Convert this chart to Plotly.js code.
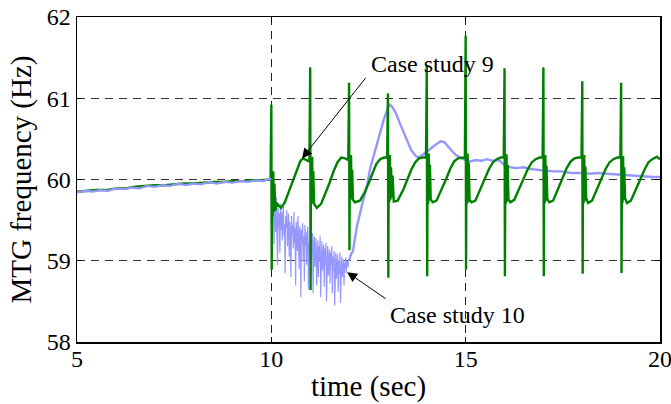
<!DOCTYPE html>
<html>
<head>
<meta charset="utf-8">
<script src="https://cdn.plot.ly/plotly-3.0.1.min.js"></script>
<style>html,body{margin:0;padding:0;background:#fff;}#chart{width:671px;height:404px;}</style>
</head>
<body>
<div id="chart"></div>
<script>
// ---- Data ----
var xTicks = [5, 10, 15, 20];
var yTicks = [58, 59, 60, 61, 62];
var seriesNames = ["Case study 9", "Case study 10"];

// Case study 9 (green)
var case9Time = [
  5.00,5.25,5.50,5.75,6.00,6.25,6.50,6.75,7.00,7.25,7.50,7.75,8.00,8.25,8.50,8.75,9.00,9.25,9.50,9.75,9.98,
  10.00,10.01,10.02,10.035,10.05,10.065,10.08,10.10,10.15,10.25,10.35,10.45,10.55,10.65,10.75,10.82,10.90,10.98,
  11.00,11.01,11.02,11.035,11.05,11.065,11.08,11.10,11.17,11.28,11.40,11.50,11.60,11.70,11.80,11.90,11.98,
  12.00,12.01,12.02,12.035,12.05,12.065,12.08,12.10,12.15,12.28,12.40,12.50,12.60,12.70,12.80,12.90,12.98,
  13.00,13.01,13.02,13.035,13.05,13.065,13.08,13.10,13.12,13.15,13.25,13.40,13.50,13.60,13.70,13.80,13.90,13.98,
  14.00,14.01,14.02,14.035,14.05,14.065,14.08,14.10,14.15,14.25,14.40,14.50,14.60,14.70,14.80,14.90,14.98,
  15.00,15.01,15.02,15.035,15.05,15.065,15.08,15.10,15.15,15.25,15.40,15.50,15.60,15.70,15.80,15.90,15.98,
  16.00,16.01,16.02,16.035,16.05,16.065,16.08,16.10,16.15,16.25,16.40,16.50,16.60,16.70,16.80,16.90,16.98,
  17.00,17.01,17.02,17.035,17.05,17.065,17.08,17.10,17.15,17.25,17.40,17.50,17.60,17.70,17.80,17.90,17.98,
  18.00,18.01,18.02,18.035,18.05,18.065,18.08,18.10,18.15,18.25,18.40,18.50,18.60,18.70,18.80,18.90,18.98,
  19.00,19.01,19.02,19.035,19.05,19.065,19.08,19.10,19.15,19.25,19.40,19.50,19.60,19.70,19.80,19.92,20.00
];
var case9Freq = [
  59.85,59.86,59.87,59.87,59.89,59.89,59.91,59.92,59.93,59.93,59.94,59.95,59.95,59.96,59.97,59.97,59.98,59.98,59.99,59.99,60.00,
  60.92,58.89,60.05,59.55,60.10,59.60,59.95,59.62,59.70,59.65,59.72,59.85,59.98,60.12,60.23,60.26,60.24,60.22,
  61.38,58.64,60.25,59.70,60.28,59.75,60.10,59.70,59.65,59.70,59.83,59.96,60.10,60.21,60.27,60.26,60.24,
  61.19,59.13,60.25,59.75,60.30,59.78,60.12,59.75,59.72,59.74,59.84,59.95,60.08,60.19,60.25,60.27,60.27,
  61.06,58.79,60.28,59.72,60.30,59.75,60.15,59.78,60.05,59.73,59.74,59.88,60.00,60.12,60.21,60.26,60.27,60.27,
  61.41,58.81,60.28,59.70,60.32,59.74,60.18,59.76,59.72,59.74,59.89,60.01,60.13,60.22,60.26,60.27,60.27,
  61.77,58.89,60.30,59.70,60.32,59.72,60.20,59.75,59.72,59.74,59.90,60.02,60.13,60.21,60.25,60.27,60.27,
  61.37,58.81,60.30,59.70,60.31,59.73,60.18,59.76,59.72,59.75,59.90,60.02,60.13,60.21,60.25,60.27,60.27,
  61.38,58.81,60.29,59.71,60.30,59.74,60.17,59.76,59.72,59.74,59.91,60.03,60.14,60.22,60.26,60.27,60.27,
  61.21,58.84,60.28,59.71,60.30,59.74,60.16,59.77,59.71,59.74,59.90,60.02,60.13,60.21,60.25,60.27,60.27,
  61.19,58.85,60.28,59.71,60.29,59.75,60.15,59.77,59.71,59.74,59.89,60.01,60.12,60.21,60.25,60.28,60.25
];

// Case study 10 (light blue)
var case10Time = [
  5.0,5.2,5.4,5.6,5.8,6.0,6.2,6.4,6.6,6.8,7.0,7.2,7.4,7.6,7.8,8.0,8.2,8.4,8.6,8.8,9.0,9.2,9.4,9.6,9.8,9.95,10.0,
  10.01,10.025,10.04,10.055,10.07,10.085,10.1,10.115,10.13,10.145,10.16,10.175,10.19,10.205,10.22,10.235,10.25,10.265,10.28,10.295,
  10.31,10.325,10.34,10.355,10.37,10.385,10.4,10.415,10.43,10.445,10.46,10.475,10.49,10.505,10.52,10.535,10.55,10.565,10.58,10.595,
  10.61,10.625,10.64,10.655,10.67,10.685,10.7,10.715,10.73,10.745,10.76,10.775,10.79,10.805,10.82,10.835,10.85,10.865,10.88,10.895,
  10.91,10.925,10.94,10.955,10.97,10.985,11.0,11.015,11.03,11.045,11.06,11.075,11.09,11.105,11.12,11.135,11.15,11.165,11.18,11.195,
  11.21,11.225,11.24,11.255,11.27,11.285,11.3,11.315,11.33,11.345,11.36,11.375,11.39,11.405,11.42,11.435,11.45,11.465,11.48,11.495,
  11.51,11.525,11.54,11.555,11.57,11.585,11.6,11.615,11.63,11.645,11.66,11.675,11.69,11.705,11.72,11.735,11.75,11.765,11.78,11.795,
  11.81,11.825,11.84,11.855,11.87,11.885,11.9,11.915,11.93,11.945,11.96,11.975,11.99,
  12.0,12.05,12.1,12.2,12.33,12.45,12.55,12.67,12.8,12.9,13.0,13.05,13.1,13.2,13.3,13.4,13.5,13.6,13.7,13.77,13.85,13.95,
  14.05,14.15,14.25,14.35,14.45,14.55,14.65,14.75,14.85,14.95,15.1,15.25,15.4,15.55,15.7,15.85,16.0,16.15,16.3,16.5,16.65,16.8,
  17.0,17.25,17.45,17.7,17.94,18.2,18.4,18.64,18.9,19.1,19.3,19.55,19.82,20.0
];
var case10Freq = [
  59.84,59.86,59.85,59.87,59.86,59.89,59.88,59.90,59.89,59.92,59.91,59.93,59.92,59.95,59.93,59.95,59.94,59.97,59.95,59.97,59.96,59.98,59.97,59.99,59.98,60.01,60.00,
  59.90,59.45,59.80,59.62,59.20,59.70,59.55,59.35,59.78,59.50,58.95,59.65,59.42,59.58,59.10,59.70,59.38,59.60,59.25,59.52,
  59.68,59.30,59.45,58.85,59.55,59.40,59.62,59.18,59.35,59.58,59.05,59.48,59.28,58.80,59.55,59.32,59.44,59.15,59.60,59.22,
  59.40,58.70,59.48,59.30,59.12,59.55,59.25,58.90,59.42,59.35,58.55,59.38,59.20,59.46,59.00,59.30,58.75,59.44,59.18,59.35,
  58.95,59.28,59.42,58.65,59.22,59.10,59.38,58.85,59.25,59.05,59.34,58.60,59.20,59.30,58.92,59.15,59.28,58.70,59.10,59.25,
  58.80,59.18,59.02,59.30,58.55,59.12,59.24,58.88,59.05,59.20,58.68,59.15,58.95,59.22,58.50,59.08,59.18,58.82,59.00,59.14,
  58.72,59.10,58.95,59.18,58.60,59.05,58.88,59.12,58.45,59.02,59.10,58.78,58.95,59.08,58.62,59.00,58.85,59.10,58.48,58.98,
  59.05,58.80,58.95,59.02,58.70,58.98,58.90,59.04,58.85,58.98,59.00,58.92,59.02,
  59.00,59.08,59.12,59.42,59.68,59.90,60.15,60.36,60.60,60.75,60.88,60.92,60.90,60.82,60.70,60.58,60.46,60.36,60.30,60.27,60.29,60.32,
  60.36,60.40,60.44,60.47,60.46,60.40,60.35,60.30,60.27,60.25,60.22,60.24,60.23,60.25,60.23,60.24,60.18,60.15,60.14,60.15,60.13,60.12,
  60.11,60.10,60.10,60.08,60.08,60.07,60.08,60.07,60.06,60.05,60.05,60.04,60.03,60.03
];

// ---- Build traces from the arrays ----
function slice(t, f, lo, hi) {
  var xs = [], ys = [];
  for (var i = 0; i < t.length; i++) {
    if (t[i] >= lo && t[i] <= hi) { xs.push(t[i]); ys.push(f[i]); }
  }
  return {x: xs, y: ys};
}
var blueColor = "rgb(150,150,255)";
var greenColor = "rgb(0,128,0)";
var bPre = slice(case10Time, case10Freq, 5, 10);
var bNoise = slice(case10Time, case10Freq, 10, 12);
var bPost = slice(case10Time, case10Freq, 12, 20);

var traces = [
  {x: bNoise.x, y: bNoise.y, mode: "lines", name: seriesNames[1], line: {color: blueColor, width: 1.2}, showlegend: false},
  {x: bPost.x, y: bPost.y, mode: "lines", name: seriesNames[1], line: {color: blueColor, width: 2.4}, showlegend: false},
  {x: case9Time, y: case9Freq, mode: "lines", name: seriesNames[0], line: {color: greenColor, width: 2.4}, showlegend: false},
  {x: bPre.x, y: bPre.y, mode: "lines", name: seriesNames[1], line: {color: blueColor, width: 2.2}, showlegend: false}
];

var serif = "Liberation Serif, Times New Roman, serif";

var layout = {
  width: 671, height: 404,
  margin: {l: 77, r: 11, t: 17, b: 62},
  paper_bgcolor: "#fff", plot_bgcolor: "#fff",
  font: {family: serif, color: "#000", size: 24},
  showlegend: false,
  xaxis: {
    range: [5, 20], tickvals: xTicks, ticktext: xTicks.map(String),
    showline: true, linecolor: "#000", linewidth: 1.5, mirror: "ticks",
    ticks: "inside", ticklen: 5, tickcolor: "#000",
    showgrid: true, gridcolor: "#222", griddash: "8px,6px", gridwidth: 1,
    zeroline: false, ticklabeloverflow: "allow", ticklabelstandoff: -5,
    tickfont: {family: serif, size: 24, color: "#000"},
    title: {text: "time (sec)", font: {family: serif, size: 29, color: "#000"}, standoff: 4}
  },
  yaxis: {
    range: [58, 62], tickvals: yTicks, ticktext: yTicks.map(String),
    showline: true, linecolor: "#000", linewidth: 1.5, mirror: "ticks",
    ticks: "inside", ticklen: 5, tickcolor: "#000",
    showgrid: true, gridcolor: "#333", griddash: "8px,6px", gridwidth: 1,
    zeroline: false, ticklabeloverflow: "allow",
    tickfont: {family: serif, size: 24, color: "#000"},
    title: {text: "MTG frequency (Hz)", font: {family: serif, size: 29, color: "#000"}, standoff: 6}
  },
  annotations: [
    {x: 10.79, y: 60.26, ax: 12.46, ay: 61.27, xref: "x", yref: "y", axref: "x", ayref: "y",
     text: "", showarrow: true, arrowhead: 2, arrowsize: 2, arrowwidth: 1, arrowcolor: "#000"},
    {x: 12.51, y: 61.42, xref: "x", yref: "y", text: seriesNames[0], showarrow: false,
     xanchor: "left", yanchor: "middle", font: {family: serif, size: 24, color: "#000"}},
    {x: 11.95, y: 58.86, ax: 12.98, ay: 58.52, xref: "x", yref: "y", axref: "x", ayref: "y",
     text: "", showarrow: true, arrowhead: 2, arrowsize: 2, arrowwidth: 1, arrowcolor: "#000"},
    {x: 13.0, y: 58.33, xref: "x", yref: "y", text: seriesNames[1], showarrow: false,
     xanchor: "left", yanchor: "middle", font: {family: serif, size: 24, color: "#000"}}
  ]
};

Plotly.newPlot("chart", traces, layout, {displayModeBar: false, staticPlot: true});
</script>
</body>
</html>
